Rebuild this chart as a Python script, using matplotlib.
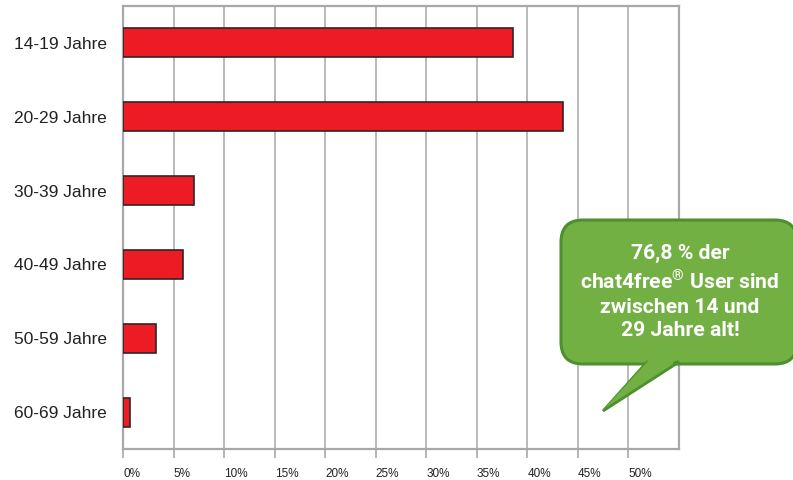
import matplotlib.pyplot as plt
import matplotlib.transforms as mtransforms
from matplotlib.patches import FancyBboxPatch, Polygon
from matplotlib import font_manager

categories = ["14-19 Jahre", "20-29 Jahre", "30-39 Jahre", "40-49 Jahre", "50-59 Jahre", "60-69 Jahre"]
shares = [38.6, 43.5, 7.0, 5.9, 3.2, 0.65]
ticks = [0, 5, 10, 15, 20, 25, 30, 35, 40, 45, 50]
tick_labels = [f"{t}%" for t in ticks]
callout = "76,8 % der\nchat4free$^{\\mathrm{®}}$ User sind\nzwischen 14 und\n29 Jahre alt!"

installed = {f.name for f in font_manager.fontManager.ttflist}
bubble_font = "Liberation Sans Narrow" if "Liberation Sans Narrow" in installed else "Roboto"
plt.rcParams["mathtext.fontset"] = "custom"
plt.rcParams["mathtext.rm"] = f"{bubble_font}:bold"

fig = plt.figure(figsize=(7.93, 4.80), dpi=100)
fig.patch.set_facecolor("white")
ax = fig.add_axes([0.1555, 0.064, 0.7007, 0.924])

ypos = list(range(len(categories)))
ax.barh(ypos, shares, height=0.39, color="#ED1C24", edgecolor="#2e2626", linewidth=1.2, zorder=3)

ax.set_xlim(0, 55)
ax.set_ylim(len(categories) - 0.5, -0.5)
ax.set_xticks(ticks)
ax.set_xticklabels(tick_labels, fontsize=8.5, family="Liberation Sans", color="#222222")
offset = mtransforms.ScaledTranslation(-0.01, 0, fig.dpi_scale_trans)
for lbl in ax.get_xticklabels():
    lbl.set_horizontalalignment("left")
    lbl.set_transform(lbl.get_transform() + offset)
ax.tick_params(axis="x", length=6.5, width=1.2, color="#a8a8a8", pad=7)

ax.set_yticks(ypos)
ax.set_yticklabels(categories, fontsize=12.5, family="Liberation Sans", color="#222222")
ax.tick_params(axis="y", length=0, pad=12)

ax.xaxis.grid(True, color="#b4b4b4", linewidth=1.3, zorder=0)
ax.set_axisbelow(True)
for sp in ax.spines.values():
    sp.set_color("#a8a8a8")
    sp.set_linewidth(1.6)

# speech bubble
box = FancyBboxPatch((561, 480 - 364), 236, 144, boxstyle="round,pad=0,rounding_size=22",
                     transform=None, facecolor="#72B043", edgecolor="#4E8F2F", linewidth=2.2,
                     zorder=5, clip_on=False)
fig.patches.append(box)
tail = Polygon([(647, 480 - 362), (679, 480 - 362), (603, 480 - 411)], closed=True, transform=None,
               facecolor="#72B043", edgecolor="#4E8F2F", linewidth=2.0, zorder=6)
fig.patches.append(tail)
tail_fill = Polygon([(649, 480 - 360), (677, 480 - 360), (605, 480 - 408)], closed=True, transform=None,
                    facecolor="#72B043", edgecolor="none", zorder=7)
fig.patches.append(tail_fill)
fig.text(680 / 793, 1 - 292 / 480, callout, ha="center", va="center", color="white",
         fontsize=15.2, fontweight="bold", family=bubble_font, linespacing=1.32, zorder=8)

fig.savefig("out.png", dpi=100)
